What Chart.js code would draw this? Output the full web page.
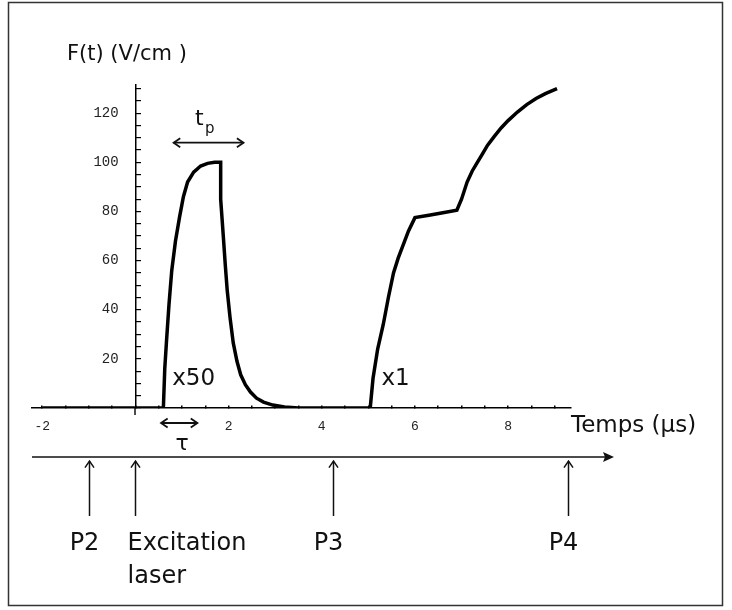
<!DOCTYPE html>
<html>
<head>
<meta charset="utf-8">
<script src="https://cdn.jsdelivr.net/npm/chart.js@4.4.1/dist/chart.umd.min.js"></script>
<style>
  html, body { margin: 0; padding: 0; background: #fff; }
  #box { width: 732px; height: 610px; }
</style>
</head>
<body>
<div id="box"><canvas id="myChart"></canvas></div>
<script>
// ===============================
// DATA
// ===============================

const timeUs = [
    -2, -1, 0, 0.6, 0.63, 0.67, 0.72, 0.78, 0.86, 0.95, 1.03, 1.12, 1.25, 1.4, 1.55, 1.7, 1.83,
    1.83, 1.86, 1.89, 1.93, 1.97, 2.03, 2.1, 2.18, 2.26, 2.36, 2.47, 2.6, 2.75, 2.95, 3.2, 3.5,
    4, 5.04, 5.1, 5.2, 5.32, 5.43, 5.54, 5.64, 5.74, 5.86, 6.0, 6.3, 6.6, 6.9,
    7.0, 7.12, 7.23, 7.34, 7.45, 7.56, 7.7, 7.85, 8.0, 8.2, 8.4, 8.6, 8.8, 9.05
];

const fieldVcm = [
    0, 0, 0, 0, 16, 28, 42, 56, 68, 78, 86, 92, 96, 98.5, 99.6, 100, 100,
    85, 77, 69, 58, 48, 37, 26.5, 19, 13.5, 9.5, 6.5, 4, 2.4, 1.2, 0.4, 0,
    0, 0, 12, 24, 34, 45, 55, 61, 66, 72, 77.5, 78.5, 79.5, 80.5,
    85, 92, 96.5, 100, 103.5, 107, 110.5, 114, 117, 120.5, 123.5, 126, 128, 130
];

const xTickLabels = [-2, 2, 4, 6, 8];
const yTickLabels = [20, 40, 60, 80, 100, 120];

const markerNames = ['P2', 'Excitation', 'P3', 'P4'];
const markerTimes = [-1, 0, 4.25, 9.28];

// =======================================
// HELPERS
// =======================================

function chevron(ctx, x, y, dx, dy, size) {
    // open arrow head pointing along (dx, dy)
    const a = Math.atan2(dy, dx);
    ctx.beginPath();
    ctx.moveTo(x - size * Math.cos(a - 0.6), y - size * Math.sin(a - 0.6));
    ctx.lineTo(x, y);
    ctx.lineTo(x - size * Math.cos(a + 0.6), y - size * Math.sin(a + 0.6));
    ctx.stroke();
}

function doubleArrow(ctx, x1, x2, y) {
    ctx.beginPath();
    ctx.moveTo(x1, y);
    ctx.lineTo(x2, y);
    ctx.stroke();
    chevron(ctx, x1, y, -1, 0, 8);
    chevron(ctx, x2, y, 1, 0, 8);
}

// =======================================
// ANNOTATIONS PLUGIN
// =======================================

const annotations = {
    id: 'annotations',
    afterDraw(chart) {
        const ctx = chart.ctx;
        const xs = chart.scales.x;
        const ys = chart.scales.y;

        ctx.save();

        // frame
        ctx.strokeStyle = '#333';
        ctx.lineWidth = 1.5;
        ctx.strokeRect(8.5, 2.5, 714, 603);

        ctx.fillStyle = '#111';
        ctx.strokeStyle = '#111';
        ctx.textBaseline = 'alphabetic';

        // y axis stub below the x axis
        const x0 = Math.round(xs.getPixelForValue(0));
        ctx.lineWidth = 1.5;
        ctx.beginPath();
        ctx.moveTo(x0, ys.getPixelForValue(0));
        ctx.lineTo(x0, ys.getPixelForValue(0) + 7);
        ctx.stroke();

        // y title
        ctx.textAlign = 'left';
        ctx.font = '21px "DejaVu Sans"';
        ctx.fillText('F(t) (V/cm )', 67, 60);

        // x title
        ctx.font = '23px "DejaVu Sans"';
        ctx.fillText('Temps (\u03bcs)', 571, 432);

        // t_p
        ctx.font = '22px "DejaVu Sans"';
        ctx.fillText('t', 195, 125);
        ctx.font = '15px "DejaVu Sans"';
        ctx.fillText('p', 205, 133);
        ctx.lineWidth = 1.8;
        doubleArrow(ctx, xs.getPixelForValue(0.82), xs.getPixelForValue(2.32), ys.getPixelForValue(108));

        // tau
        doubleArrow(ctx, xs.getPixelForValue(0.55), xs.getPixelForValue(1.33), 423);
        ctx.font = '22px "DejaVu Sans"';
        ctx.textAlign = 'center';
        ctx.fillText('\u03c4', xs.getPixelForValue(1.0), 450);

        // scale factors
        ctx.textAlign = 'left';
        ctx.font = '23px "DejaVu Sans"';
        ctx.fillText('x50', xs.getPixelForValue(0.79), 385);
        ctx.fillText('x1', xs.getPixelForValue(5.28), 385);

        // lower timeline
        const lineY = 457;
        ctx.lineWidth = 1.5;
        ctx.beginPath();
        ctx.moveTo(32, lineY);
        ctx.lineTo(606, lineY);
        ctx.stroke();
        ctx.beginPath();
        ctx.moveTo(614, lineY);
        ctx.lineTo(603, lineY - 5);
        ctx.lineTo(605, lineY);
        ctx.lineTo(603, lineY + 5);
        ctx.closePath();
        ctx.fill();

        ctx.font = '24px "DejaVu Sans"';
        markerTimes.forEach((t, i) => {
            const px = Math.round(xs.getPixelForValue(t)) + 0.5;
            ctx.beginPath();
            ctx.moveTo(px, 516);
            ctx.lineTo(px, 461);
            ctx.stroke();
            chevron(ctx, px, 461, 0, -1, 8);

            if (markerNames[i] === 'Excitation') {
                ctx.textAlign = 'left';
                ctx.fillText('Excitation', px - 8, 550);
                ctx.fillText('laser', px - 8, 583);
            } else {
                ctx.textAlign = 'center';
                ctx.fillText(markerNames[i], px - 5, 550);
            }
        });

        ctx.restore();
    }
};

// =======================================
// CHART JS
// =======================================

const ctx = document.getElementById('myChart').getContext('2d');

const myChart = new Chart(ctx, {
    type: 'line',
    data: {
        datasets: [
            {
                data: timeUs.map((t, i) => ({ x: t, y: fieldVcm[i] })),
                borderColor: '#000',
                borderWidth: 3.5,
                pointRadius: 0,
                tension: 0,
                fill: false
            }
        ]
    },
    options: {
        responsive: true,
        maintainAspectRatio: false,
        animation: false,
        layout: {
            padding: { left: 32, right: 161, top: 85, bottom: 202 }
        },
        plugins: {
            legend: { display: false },
            tooltip: { enabled: false }
        },
        scales: {
            x: {
                type: 'linear',
                position: { y: 0 },
                min: -2.22,
                max: 9.35,
                border: { display: true, color: '#000', width: 1.5 },
                grid: {
                    drawOnChartArea: false,
                    drawTicks: true,
                    tickLength: -3,
                    color: '#000',
                    lineWidth: 1.5
                },
                ticks: {
                    stepSize: 0.5,
                    includeBounds: false,
                    autoSkip: false,
                    maxRotation: 0,
                    padding: 14,
                    color: '#222',
                    font: { family: '"Liberation Mono"', size: 13 },
                    callback: (v) => xTickLabels.includes(v) ? String(v) : ''
                }
            },
            y: {
                type: 'linear',
                position: { x: 0 },
                min: 0,
                max: 131.5,
                border: { display: true, color: '#000', width: 1.5 },
                grid: {
                    drawOnChartArea: false,
                    drawTicks: true,
                    tickLength: -6,
                    color: '#000',
                    lineWidth: 1.2
                },
                ticks: {
                    stepSize: 5,
                    includeBounds: false,
                    autoSkip: false,
                    color: '#222',
                    font: { family: '"Liberation Mono"', size: 14 },
                    // labels sit right-aligned on the axis line, so pad with spaces
                    callback: (v) => yTickLabels.includes(v) ? String(v) + '  ' : ''
                }
            }
        }
    },
    plugins: [annotations]
});
</script>
</body>
</html>
